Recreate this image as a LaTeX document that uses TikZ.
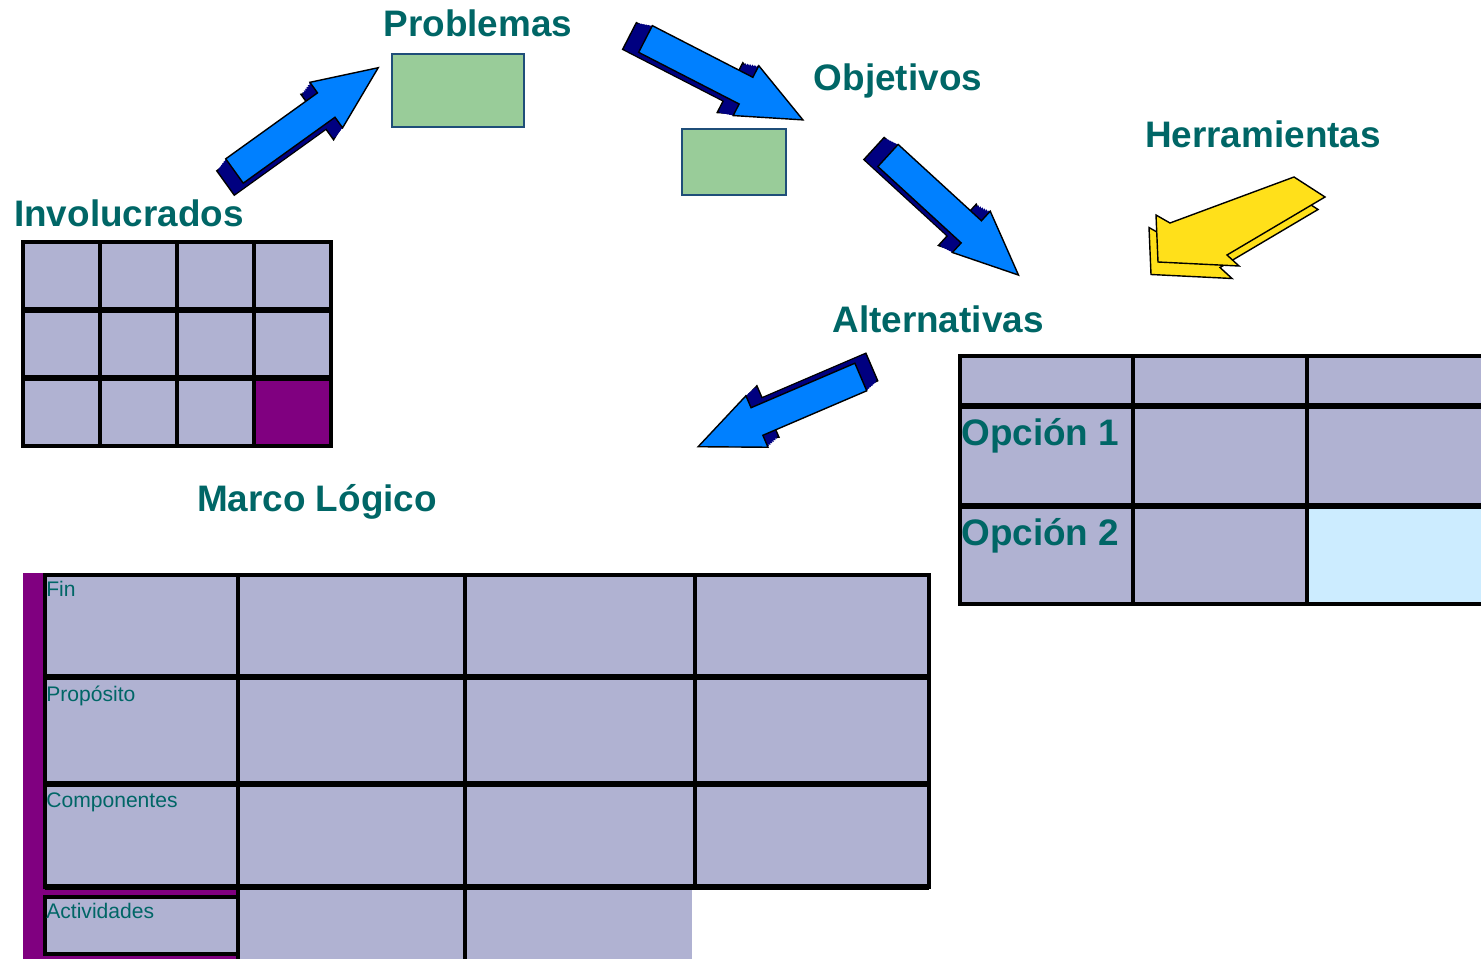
\documentclass[tikz,border=0pt]{standalone}
\usepackage{fontspec}
\setmainfont{Liberation Sans}
\usepackage{tikz}
\usetikzlibrary{calc}
\definecolor{titlecolor}{RGB}{0, 102, 102}
\definecolor{cellcolor}{RGB}{176, 178, 210}
\definecolor{purplecolor}{RGB}{128, 0, 128}
\definecolor{greencolor}{RGB}{153, 204, 153}
\definecolor{greenborder}{RGB}{31, 78, 121}
\definecolor{optioncolor}{RGB}{204, 236, 255}
\definecolor{arrowblue}{RGB}{0, 128, 255}
\definecolor{arrowdark}{RGB}{0, 0, 128}
\definecolor{toolyellow}{RGB}{255, 224, 26}

\begin{document}
\begin{tikzpicture}[
    x=0.02cm, y=-0.02cm,
    title/.style={font=\fontsize{21}{25}\selectfont\bfseries, text=titlecolor, inner sep=0pt, anchor=base},
    rowtext/.style={font=\fontsize{12}{14}\selectfont, text=titlecolor, inner sep=0pt, anchor=base west},
    cell/.style={draw=black, fill=cellcolor, line width=2pt, inner sep=0pt, outer sep=0pt},
    rowline/.style={draw=black, line width=3.6pt},
    greenbox/.style={draw=greenborder, fill=greencolor, line width=1.1pt, inner sep=0pt},
    pics/blockarrow/.style={code={
        \draw[line width=0.8pt, fill=#1] (0,-15) -- (113,-15) -- (113,-28) -- (177,0) -- (113,28) -- (113,15) -- (0,15) -- cycle;}},
    pics/arrowside/.style={code={
        \fill[arrowdark] (0,-15) -- (113,-15) -- (113,-28) -- (177,0) -- (113,28) -- (113,15) -- (0,15) -- cycle;}},
    pics/toolarrow/.style={code={
        \draw[line width=0.8pt, fill=toolyellow] (0,0) -- (-2,-47) -- (12,-39) -- (136,-85) -- (167,-65) -- (69,-7) -- (81,4) -- cycle;}}
]
    \clip (0,0) rectangle (1481,959);

    % Titles
    \node[title] (problemas) at (478,37) {Problemas};
    \node[title] (objetivos) at (898,91) {Objetivos};
    \node[title] (herramientas) at (1263,148) {Herramientas};
    \node[title] (involucrados) at (129,227) {Involucrados};
    \node[title] (alternativas) at (938,333) {Alternativas};
    \node[title] (marco) at (317,511) {Marco Lógico};

    % Green boxes
    \node[greenbox, minimum width=2.64cm, minimum height=1.46cm] (probbox) at (458,90.5) {};
    \node[greenbox, minimum width=2.08cm, minimum height=1.32cm] (objbox) at (734,162) {};

    % Involucrados grid
    \foreach \r in {1,2,3}
        \foreach \c in {1,...,4} {
            \ifnum\r\c=34 \def\cellfill{purplecolor}\else\def\cellfill{cellcolor}\fi
            \node[cell, fill=\cellfill, minimum width=1.54cm, minimum height=1.36cm] (inv-\r-\c) at ({77*\c-15.5},{68*\r+208}) {};
        }
    \foreach \r in {1,2}
        \draw[rowline] (inv-\r-1.south west) -- (inv-\r-4.south east);

    % Alternativas table
    \foreach \r/\ya/\yb in {1/356/406, 2/406/506, 3/506/604}
        \foreach \c/\xa/\xb in {1/960/1133, 2/1133/1307, 3/1307/1490} {
            \ifnum\r\c=33 \def\cellfill{optioncolor}\else\def\cellfill{cellcolor}\fi
            \node[cell, fill=\cellfill, minimum width={(\xb-\xa)*0.02cm}, minimum height={(\yb-\ya)*0.02cm}] (alt-\r-\c) at ({(\xa+\xb)/2},{(\ya+\yb)/2}) {};
        }
    \foreach \r in {1,2}
        \draw[rowline] (alt-\r-1.south west) -- (alt-\r-3.south east);
    \node[title, anchor=base west] (opcion1) at (961,445) {Opción 1};
    \node[title, anchor=base west] (opcion2) at (961,545) {Opción 2};

    % Marco logico table
    \fill[purplecolor] (23,573) rectangle (238,959);
    \foreach \r/\ya/\yb in {1/575/677, 2/677/784, 3/784/887}
        \foreach \c/\xa/\xb in {1/45/238, 2/238/465, 3/465/695, 4/695/929}
            \node[cell, minimum width={(\xb-\xa)*0.02cm}, minimum height={(\yb-\ya)*0.02cm}] (mk-\r-\c) at ({(\xa+\xb)/2},{(\ya+\yb)/2}) {};
    \node[cell, minimum width=3.86cm, minimum height=1.14cm] (mk-4-1) at (141.5,925.5) {};
    \node[cell, draw=none, minimum width=4.54cm, minimum height=1.6cm] (mk-4-2) at (351.5,927) {};
    \node[cell, draw=none, minimum width=4.54cm, minimum height=1.6cm] (mk-4-3) at (578.5,927) {};
    \draw[line width=2pt] (mk-4-2.north west) -- (mk-4-2.south west);
    \draw[line width=2pt] (mk-4-3.north west) -- (mk-4-3.south west);
    \foreach \r in {1,2,3}
        \draw[rowline, line width=3pt] (mk-\r-1.south west) -- (mk-\r-4.south east);

    \node[rowtext] (fin) at (46,596) {Fin};
    \node[rowtext] (proposito) at (46,701) {Propósito};
    \node[rowtext] (componentes) at (46,807) {Componentes};
    \node[rowtext] (actividades) at (46,918) {Actividades};

    % Block arrows
    \coordinate (arrA) at (234.5,171);
    \coordinate (arrB) at (645.5,39);
    \coordinate (arrC) at (888,155.5);
    \coordinate (arrD) at (860.8,377);
    \foreach \pos/\ang/\dx/\dy in {arrA/35.7/-9/12, arrB/-27.2/-16/-3, arrC/-42.5/-14/-7, arrD/203.2/11/-10} {
        \pic[rotate=\ang] at ($(\pos)+(\dx,\dy)$) {blockarrow=arrowdark};
        \foreach \t in {0.85,0.7,0.55,0.4,0.25,0.1}
            \pic[rotate=\ang] at ($(\pos)+\t*(\dx,\dy)$) {arrowside};
        \pic[rotate=\ang] at (\pos) {blockarrow=arrowblue};
    }

    % Tools arrow
    \coordinate (toolA) at (1158,262);
    \pic at ($(toolA)+(-7,12.5)$) {toolarrow};
    \pic at (toolA) {toolarrow};

\end{tikzpicture}
\end{document}
